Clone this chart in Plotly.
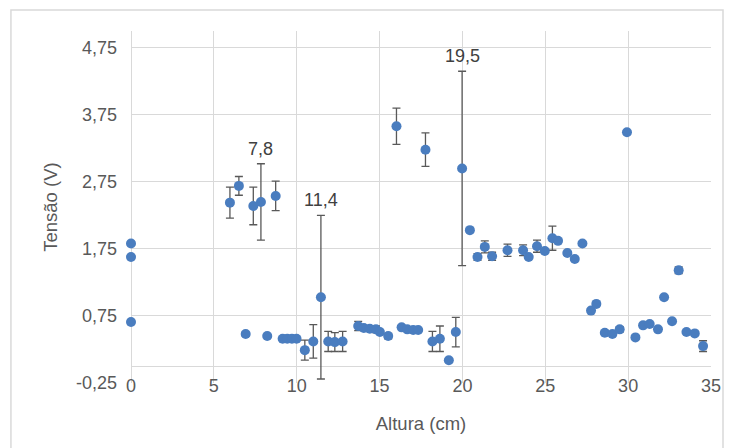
import plotly.graph_objects as go

# Data
altura = [0, 0, 0, 5.97, 6.51, 6.92, 7.38, 7.84, 8.22, 8.73, 9.15, 9.43, 9.71, 9.99,
          10.49, 11.0, 11.46, 11.9, 12.3, 12.77, 13.71, 14.05, 14.41, 14.78, 15.02, 15.52,
          16.02, 16.33, 16.67, 17.03, 17.33, 17.77, 18.19, 18.64, 19.18, 19.6, 19.98,
          20.45, 20.91, 21.35, 21.79, 22.72, 23.66, 24.0, 24.5, 24.97, 25.43, 25.77, 26.33,
          26.78, 27.24, 27.76, 28.08, 28.59, 29.05, 29.49, 29.93, 30.44, 30.9, 31.3, 31.8,
          32.17, 32.65, 33.05, 33.52, 34.02, 34.52]
tensao = [1.83, 1.63, 0.66, 2.44, 2.69, 0.48, 2.39, 2.45, 0.45, 2.54, 0.41, 0.41, 0.41, 0.41,
          0.24, 0.37, 1.03, 0.37, 0.36, 0.37, 0.60, 0.57, 0.56, 0.55, 0.51, 0.45,
          3.58, 0.58, 0.55, 0.54, 0.54, 3.23, 0.37, 0.41, 0.09, 0.51, 2.95,
          2.03, 1.63, 1.78, 1.64, 1.73, 1.73, 1.63, 1.79, 1.72, 1.91, 1.87, 1.69,
          1.60, 1.83, 0.83, 0.93, 0.50, 0.48, 0.55, 3.49, 0.43, 0.61, 0.63, 0.55,
          1.03, 0.67, 1.43, 0.51, 0.49, 0.30]
erro = [0, 0, 0, 0.23, 0.14, 0.03, 0.28, 0.57, 0, 0.22, 0, 0, 0, 0,
        0.15, 0.25, 1.22, 0.15, 0.14, 0.15, 0.07, 0, 0, 0.05, 0, 0.04,
        0.27, 0, 0, 0, 0, 0.25, 0.15, 0.19, 0, 0.22, 1.45,
        0.03, 0.05, 0.09, 0.06, 0.09, 0.08, 0, 0.09, 0, 0.18, 0, 0,
        0, 0, 0, 0, 0, 0, 0.04, 0, 0, 0, 0, 0,
        0, 0, 0.05, 0, 0, 0.08]

rotulos_x = [7.84, 11.46, 19.98]
rotulos_y = [2.45 + 0.57, 1.03 + 1.22, 2.95 + 1.45]
rotulos_txt = ["7,8", "11,4", "19,5"]

y_ticks = [-0.25, 0.75, 1.75, 2.75, 3.75, 4.75]
y_ticktext = ["-0,25", "0,75", "1,75", "2,75", "3,75", "4,75"]
x_ticks = [0, 5, 10, 15, 20, 25, 30, 35]

FONT = "Liberation Sans, Arial, sans-serif"
GREY_TXT = "#595959"
GRID = "#d9d9d9"

fig = go.Figure()
fig.add_trace(go.Scatter(
    x=altura, y=tensao, mode="markers",
    marker=dict(color="#4a7dbf", size=10),
    error_y=dict(type="data", array=erro, visible=True, color="#595959",
                 thickness=1.3, width=4),
    showlegend=False, cliponaxis=False,
))

for xv, yv, t in zip(rotulos_x, rotulos_y, rotulos_txt):
    fig.add_annotation(x=xv, y=yv, text=t, showarrow=False, xref="x", yref="y",
                       yanchor="bottom", yshift=3,
                       font=dict(family=FONT, size=18, color="#404040"))

# chart area border
fig.add_shape(type="rect", xref="paper", yref="paper",
              x0=-0.207, x1=1.0207, y0=-0.2, y1=1.06,
              line=dict(color="#d9d9d9", width=1.5), fillcolor="rgba(0,0,0,0)",
              layer="below")

fig.update_layout(
    width=734, height=448,
    margin=dict(l=131, r=23, t=31, b=65),
    paper_bgcolor="white", plot_bgcolor="white",
    font=dict(family=FONT, size=18, color=GREY_TXT),
    xaxis=dict(
        range=[0, 35], tickvals=x_ticks, showgrid=True, gridcolor=GRID, gridwidth=1.3,
        zeroline=True, zerolinecolor=GRID, zerolinewidth=1.3,
        showline=False, ticks="", ticklabelstandoff=-10,
        tickfont=dict(size=18, color=GREY_TXT),
        title=dict(text="Altura (cm)", font=dict(size=18.5, color=GREY_TXT), standoff=22),
    ),
    yaxis=dict(
        range=[-0.25, 5.0], tickvals=y_ticks, ticktext=y_ticktext,
        showgrid=True, gridcolor=GRID, gridwidth=1.3,
        zeroline=True, zerolinecolor=GRID, zerolinewidth=1.3,
        showline=False, ticks="", ticklabelstandoff=13,
        tickfont=dict(size=18, color=GREY_TXT),
        title=dict(text="Tensão (V)", font=dict(size=18.5, color=GREY_TXT), standoff=13),
    ),
)

fig.write_html("out.html")
